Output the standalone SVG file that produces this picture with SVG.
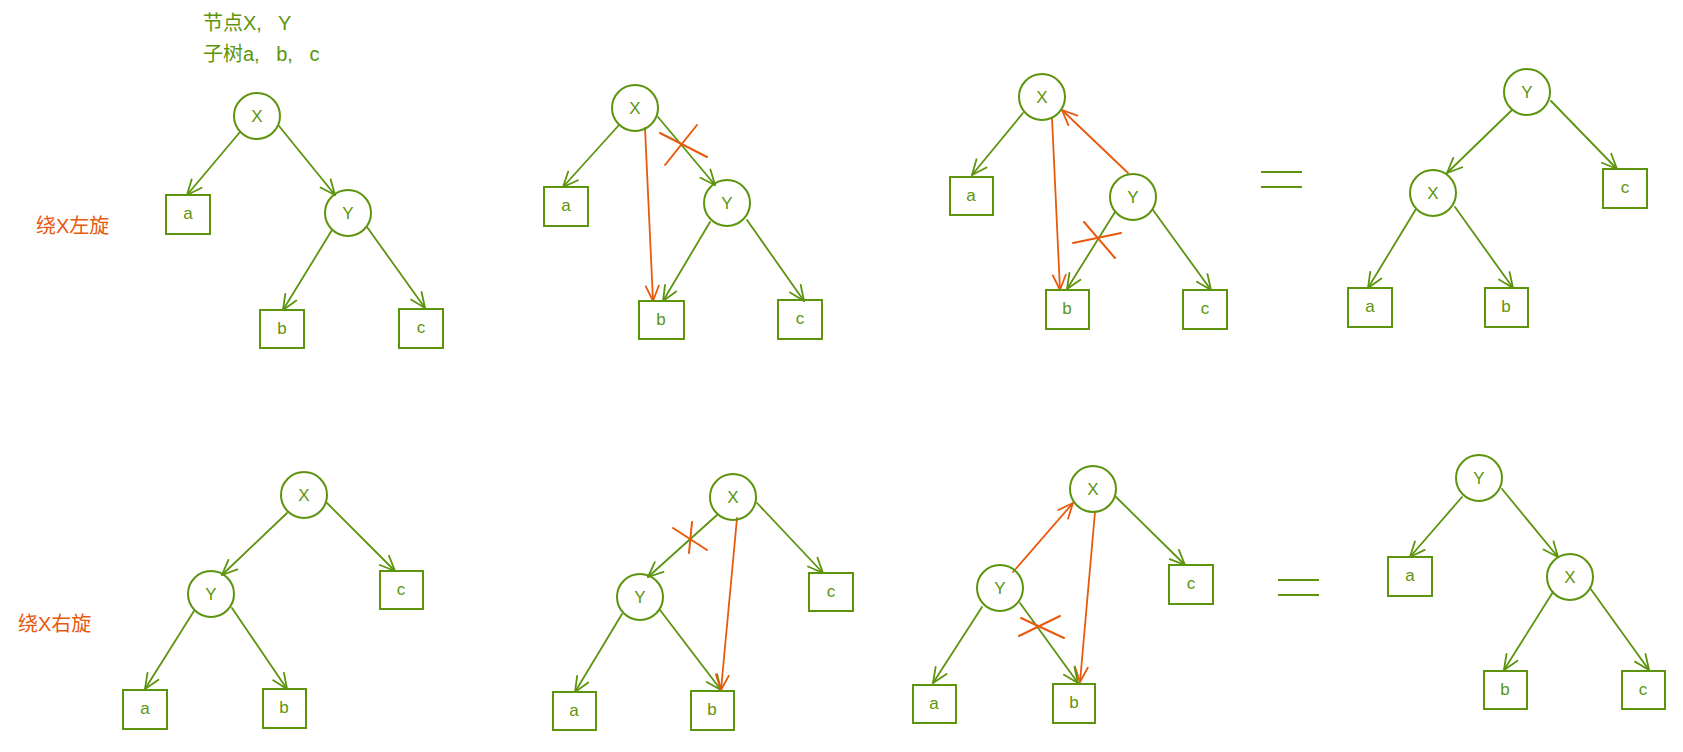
<svg xmlns="http://www.w3.org/2000/svg" width="1683" height="752" viewBox="0 0 1683 752">
<style>
.bg{fill:#ffffff}
.n{fill:none;stroke:#5c940d;stroke-width:2}
.lbl{font-family:"Liberation Sans","DejaVu Sans",sans-serif;font-size:17px;fill:#5c940d;text-anchor:middle;dominant-baseline:central}
.g{fill:none;stroke:#5c940d;stroke-width:1.8;stroke-linecap:round;marker-end:url(#ag)}
.r{fill:none;stroke:#e8590c;stroke-width:1.8;stroke-linecap:round;marker-end:url(#ar)}
.x{fill:none;stroke:#e8590c;stroke-width:2;stroke-linecap:round}
.eq{fill:none;stroke:#5c940d;stroke-width:2}
.title{font-family:"Liberation Sans","Noto Sans CJK SC",sans-serif;font-size:20px;fill:#5c940d;word-spacing:11px}
.side{font-family:"Liberation Sans","Noto Sans CJK SC",sans-serif;font-size:20px;fill:#e8590c}
</style>
<defs>
<marker id="ag" viewBox="-17 -9 19 18" refX="0" refY="0" markerWidth="19" markerHeight="18" markerUnits="userSpaceOnUse" orient="auto">
<path d="M-15,-6.5 L0,0 L-15,6.5" fill="none" stroke="#5c940d" stroke-width="1.8" stroke-linecap="round" stroke-linejoin="round"/>
</marker>
<marker id="ar" viewBox="-17 -9 19 18" refX="0" refY="0" markerWidth="19" markerHeight="18" markerUnits="userSpaceOnUse" orient="auto">
<path d="M-15,-6.5 L0,0 L-15,6.5" fill="none" stroke="#e8590c" stroke-width="1.8" stroke-linecap="round" stroke-linejoin="round"/>
</marker>
</defs>
<rect class="bg" x="0" y="0" width="1683" height="752"/>

<g id="texts">
<text class="title" x="203" y="30">节点X, Y</text>
<text class="title" x="203" y="61">子树a, b, c</text>
<text class="side" x="36" y="233">绕X左旋</text>
<text class="side" x="18" y="631">绕X右旋</text>
</g>

<g id="connectors">
<!-- diagram 1 -->
<line class="g" x1="240" y1="132" x2="187" y2="195"/>
<line class="g" x1="279" y1="126" x2="335" y2="195"/>
<line class="g" x1="332" y1="230" x2="283" y2="310"/>
<line class="g" x1="367" y1="227" x2="425" y2="308"/>
<!-- diagram 2 -->
<line class="g" x1="619" y1="125" x2="563" y2="187"/>
<line class="g" x1="658" y1="117" x2="715" y2="185"/>
<line class="g" x1="710" y1="222" x2="663" y2="301"/>
<line class="g" x1="747" y1="220" x2="804" y2="301"/>
<line class="r" x1="645" y1="128" x2="653" y2="301"/>
<line class="x" x1="660" y1="133" x2="707" y2="157"/>
<line class="x" x1="665" y1="165" x2="697" y2="125"/>
<!-- diagram 3 -->
<line class="g" x1="1023" y1="113" x2="972" y2="175"/>
<line class="r" x1="1052" y1="118" x2="1060" y2="290"/>
<line class="r" x1="1128" y1="173" x2="1062" y2="110"/>
<line class="g" x1="1115" y1="212" x2="1067" y2="289"/>
<line class="g" x1="1153" y1="210" x2="1211" y2="290"/>
<line class="x" x1="1073" y1="243" x2="1121" y2="233"/>
<line class="x" x1="1084" y1="222" x2="1115" y2="258"/>
<!-- diagram 4 -->
<line class="g" x1="1512" y1="110" x2="1447" y2="173"/>
<line class="g" x1="1551" y1="101" x2="1617" y2="169"/>
<line class="g" x1="1416" y1="209" x2="1368" y2="288"/>
<line class="g" x1="1455" y1="207" x2="1513" y2="288"/>
<!-- diagram 5 -->
<line class="g" x1="287" y1="513" x2="222" y2="575"/>
<line class="g" x1="327" y1="503" x2="395" y2="571"/>
<line class="g" x1="194" y1="611" x2="145" y2="689"/>
<line class="g" x1="232" y1="608" x2="287" y2="689"/>
<!-- diagram 6 -->
<line class="g" x1="717" y1="515" x2="648" y2="577"/>
<line class="g" x1="757" y1="503" x2="823" y2="573"/>
<line class="g" x1="622" y1="614" x2="575" y2="692"/>
<line class="g" x1="660" y1="610" x2="721" y2="690"/>
<line class="r" x1="737" y1="518" x2="721" y2="690"/>
<line class="x" x1="673" y1="528" x2="707" y2="550"/>
<line class="x" x1="689" y1="553" x2="692" y2="522"/>
<!-- diagram 7 -->
<line class="r" x1="1013" y1="572" x2="1073" y2="503"/>
<line class="r" x1="1095" y1="512" x2="1080" y2="682"/>
<line class="g" x1="1116" y1="497" x2="1185" y2="565"/>
<line class="g" x1="982" y1="607" x2="933" y2="683"/>
<line class="g" x1="1020" y1="603" x2="1078" y2="683"/>
<line class="x" x1="1019" y1="636" x2="1060" y2="616"/>
<line class="x" x1="1021" y1="618" x2="1064" y2="638"/>
<!-- diagram 8 -->
<line class="g" x1="1462" y1="497" x2="1410" y2="557"/>
<line class="g" x1="1502" y1="489" x2="1558" y2="557"/>
<line class="g" x1="1553" y1="592" x2="1504" y2="670"/>
<line class="g" x1="1590" y1="588" x2="1649" y2="670"/>
</g>

<g id="equals">
<line class="eq" x1="1261" y1="172" x2="1302" y2="172"/>
<line class="eq" x1="1261" y1="187" x2="1302" y2="187"/>
<line class="eq" x1="1278" y1="580" x2="1319" y2="580"/>
<line class="eq" x1="1278" y1="595" x2="1319" y2="595"/>
</g>

<!-- diagram 1 nodes -->
<g id="d1-x"><circle class="n" cx="257" cy="116" r="23"/><text class="lbl" x="257" y="116">X</text></g>
<g id="d1-a"><rect class="n" x="166" y="195" width="44" height="39"/><text class="lbl" x="188" y="213">a</text></g>
<g id="d1-y"><circle class="n" cx="348" cy="213" r="23"/><text class="lbl" x="348" y="213">Y</text></g>
<g id="d1-b"><rect class="n" x="260" y="310" width="44" height="38"/><text class="lbl" x="282" y="328">b</text></g>
<g id="d1-c"><rect class="n" x="399" y="309" width="44" height="39"/><text class="lbl" x="421" y="327">c</text></g>

<!-- diagram 2 nodes -->
<g id="d2-x"><circle class="n" cx="635" cy="108" r="23"/><text class="lbl" x="635" y="108">X</text></g>
<g id="d2-a"><rect class="n" x="544" y="187" width="44" height="39"/><text class="lbl" x="566" y="205">a</text></g>
<g id="d2-y"><circle class="n" cx="727" cy="203" r="23"/><text class="lbl" x="727" y="203">Y</text></g>
<g id="d2-b"><rect class="n" x="639" y="301" width="45" height="38"/><text class="lbl" x="661" y="319">b</text></g>
<g id="d2-c"><rect class="n" x="778" y="300" width="44" height="39"/><text class="lbl" x="800" y="318">c</text></g>

<!-- diagram 3 nodes -->
<g id="d3-x"><circle class="n" cx="1042" cy="97" r="23"/><text class="lbl" x="1042" y="97">X</text></g>
<g id="d3-a"><rect class="n" x="950" y="177" width="43" height="38"/><text class="lbl" x="971" y="195">a</text></g>
<g id="d3-y"><circle class="n" cx="1133" cy="197" r="23"/><text class="lbl" x="1133" y="197">Y</text></g>
<g id="d3-b"><rect class="n" x="1046" y="290" width="43" height="39"/><text class="lbl" x="1067" y="308">b</text></g>
<g id="d3-c"><rect class="n" x="1183" y="290" width="44" height="39"/><text class="lbl" x="1205" y="308">c</text></g>

<!-- diagram 4 nodes -->
<g id="d4-y"><circle class="n" cx="1527" cy="92" r="23"/><text class="lbl" x="1527" y="92">Y</text></g>
<g id="d4-x"><circle class="n" cx="1433" cy="193" r="23"/><text class="lbl" x="1433" y="193">X</text></g>
<g id="d4-c"><rect class="n" x="1603" y="169" width="44" height="39"/><text class="lbl" x="1625" y="187">c</text></g>
<g id="d4-a"><rect class="n" x="1348" y="288" width="44" height="39"/><text class="lbl" x="1370" y="306">a</text></g>
<g id="d4-b"><rect class="n" x="1485" y="288" width="43" height="39"/><text class="lbl" x="1506" y="306">b</text></g>

<!-- diagram 5 nodes -->
<g id="d5-x"><circle class="n" cx="304" cy="495" r="23"/><text class="lbl" x="304" y="495">X</text></g>
<g id="d5-y"><circle class="n" cx="211" cy="594" r="23"/><text class="lbl" x="211" y="594">Y</text></g>
<g id="d5-c"><rect class="n" x="380" y="571" width="43" height="38"/><text class="lbl" x="401" y="589">c</text></g>
<g id="d5-a"><rect class="n" x="123" y="690" width="44" height="39"/><text class="lbl" x="145" y="708">a</text></g>
<g id="d5-b"><rect class="n" x="263" y="689" width="43" height="39"/><text class="lbl" x="284" y="707">b</text></g>

<!-- diagram 6 nodes -->
<g id="d6-x"><circle class="n" cx="733" cy="497" r="23"/><text class="lbl" x="733" y="497">X</text></g>
<g id="d6-y"><circle class="n" cx="640" cy="597" r="23"/><text class="lbl" x="640" y="597">Y</text></g>
<g id="d6-c"><rect class="n" x="809" y="573" width="44" height="38"/><text class="lbl" x="831" y="591">c</text></g>
<g id="d6-a"><rect class="n" x="553" y="692" width="43" height="38"/><text class="lbl" x="574" y="710">a</text></g>
<g id="d6-b"><rect class="n" x="691" y="691" width="43" height="39"/><text class="lbl" x="712" y="709">b</text></g>

<!-- diagram 7 nodes -->
<g id="d7-x"><circle class="n" cx="1093" cy="489" r="23"/><text class="lbl" x="1093" y="489">X</text></g>
<g id="d7-y"><circle class="n" cx="1000" cy="588" r="23"/><text class="lbl" x="1000" y="588">Y</text></g>
<g id="d7-c"><rect class="n" x="1169" y="565" width="44" height="39"/><text class="lbl" x="1191" y="583">c</text></g>
<g id="d7-a"><rect class="n" x="913" y="685" width="43" height="38"/><text class="lbl" x="934" y="703">a</text></g>
<g id="d7-b"><rect class="n" x="1053" y="684" width="42" height="39"/><text class="lbl" x="1074" y="702">b</text></g>

<!-- diagram 8 nodes -->
<g id="d8-y"><circle class="n" cx="1479" cy="478" r="23"/><text class="lbl" x="1479" y="478">Y</text></g>
<g id="d8-a"><rect class="n" x="1388" y="557" width="44" height="39"/><text class="lbl" x="1410" y="575">a</text></g>
<g id="d8-x"><circle class="n" cx="1570" cy="577" r="23"/><text class="lbl" x="1570" y="577">X</text></g>
<g id="d8-b"><rect class="n" x="1484" y="671" width="43" height="38"/><text class="lbl" x="1505" y="689">b</text></g>
<g id="d8-c"><rect class="n" x="1622" y="671" width="43" height="38"/><text class="lbl" x="1643" y="689">c</text></g>
</svg>
